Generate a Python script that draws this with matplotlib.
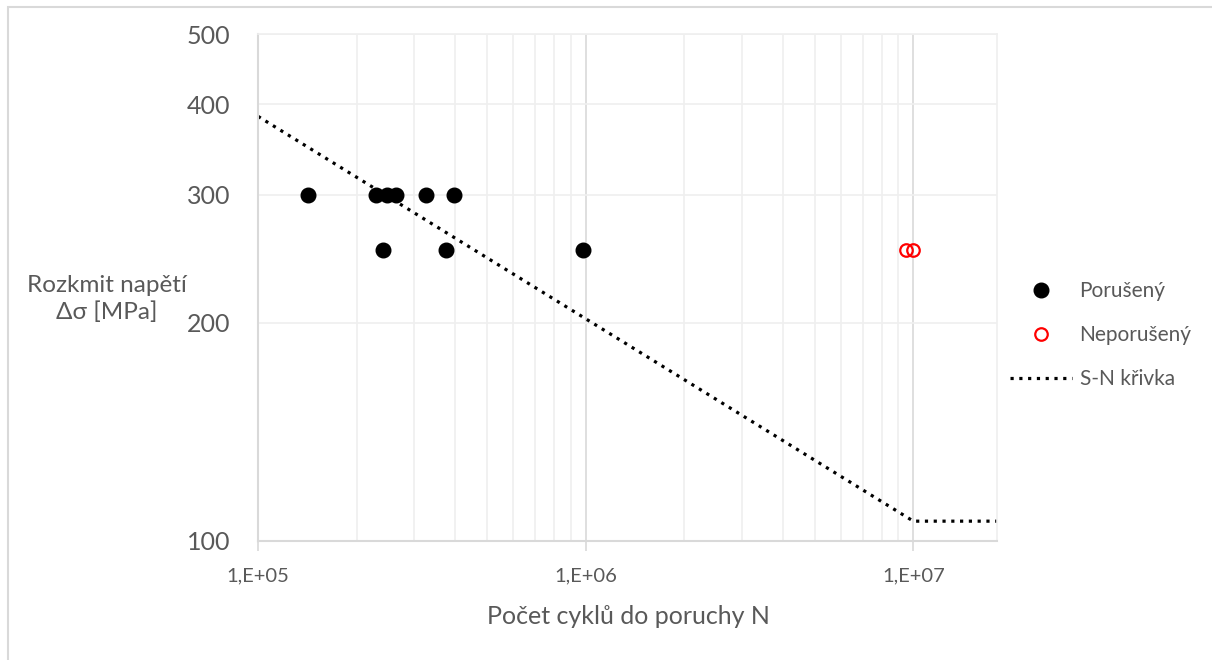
import numpy as np
import matplotlib
matplotlib.use("Agg")
import matplotlib.pyplot as plt
from matplotlib.patches import Rectangle
from matplotlib.ticker import FixedLocator, NullFormatter, LogLocator

plt.rcParams['font.family'] = ['Lato', 'DejaVu Sans']

# failed specimens (cycles, stress range MPa)
broken_n = [1.42e5, 2.29e5, 2.48e5, 2.64e5, 3.26e5, 3.97e5, 2.41e5, 3.75e5, 9.8e5]
broken_s = [300, 300, 300, 300, 300, 300, 252, 252, 252]
# run-outs
runout_n = [9.5e6, 1.0e7]
runout_s = [252, 252]
# S-N curve
sn_n = [1e5, 1e7, 1.8e7]
sn_s = [385, 106.5, 106.5]

y_ticks = [100, 200, 300, 400, 500]
x_ticks = [1e5, 1e6, 1e7]
x_labels = ["1,E+05", "1,E+06", "1,E+07"]

W, H = 1212, 660
fig = plt.figure(figsize=(W / 100, H / 100), dpi=100)
ax = fig.add_axes([258 / W, 1 - 541 / H, (997 - 258) / W, (541 - 34) / H])

txt = "#595959"
grid_major = "#d9d9d9"
grid_minor = "#efefef"

ax.set_xscale("log")
ax.set_yscale("log")
ax.set_xlim(1e5, 1.8e7)
ax.set_ylim(100, 500)

ax.plot(broken_n, broken_s, "o", color="black", ms=10.5, label="Porušený", zorder=3)
ax.plot(runout_n, runout_s, "o", mfc="none", mec="red", mew=1.6, ms=9, label="Neporušený", zorder=3)
ax.plot(sn_n, sn_s, color="black", lw=2.3, ls=(0, (1, 1.75)), label="S-N křivka", zorder=2)

ax.xaxis.set_major_locator(FixedLocator(x_ticks))
ax.set_xticklabels(x_labels)
ax.xaxis.set_minor_locator(LogLocator(base=10, subs=np.arange(2, 10), numticks=20))
ax.xaxis.set_minor_formatter(NullFormatter())
ax.yaxis.set_major_locator(FixedLocator(y_ticks))
ax.set_yticklabels([str(v) for v in y_ticks])
ax.yaxis.set_minor_locator(FixedLocator([]))

ax.grid(True, which="major", axis="x", color=grid_major, lw=1.2)
ax.grid(True, which="minor", axis="x", color=grid_minor, lw=1.2)
ax.grid(True, which="major", axis="y", color=grid_minor, lw=1.2)
ax.set_axisbelow(True)

ax.tick_params(axis="x", which="major", length=7, width=1.2, color=grid_major,
               labelsize=14.5, labelcolor=txt, pad=12)
ax.tick_params(axis="x", which="minor", length=0)
ax.tick_params(axis="y", which="major", length=0, labelsize=18, labelcolor=txt, pad=20)

for s in ["left", "bottom"]:
    ax.spines[s].set_color(grid_major)
    ax.spines[s].set_linewidth(1.5)
for s in ["top", "right"]:
    ax.spines[s].set_color(grid_minor)
    ax.spines[s].set_linewidth(1.2)

fig.text(628 / W, 1 - 617 / H, "Počet cyklů do poruchy N", ha="center", va="center",
         fontsize=18, color=txt)
fig.text(107 / W, 1 - 299 / H, "Rozkmit napětí\nΔσ [MPa]", ha="center", va="center",
         fontsize=17.5, color=txt, multialignment="center", linespacing=1.3)

leg = ax.legend(loc="center left", bbox_to_anchor=(991 / W, 1 - 335 / H),
                bbox_transform=fig.transFigure, frameon=False, fontsize=15,
                handlelength=3.0, handletextpad=0.35, labelspacing=1.15)
for t in leg.get_texts():
    t.set_color(txt)

fig.patches.append(Rectangle((8 / W, -0.1), 1.2, 1 - 7 / H + 0.1, transform=fig.transFigure,
                             fill=False, ec="#d9d9d9", lw=1.5))

fig.savefig("out.png", dpi=100)
